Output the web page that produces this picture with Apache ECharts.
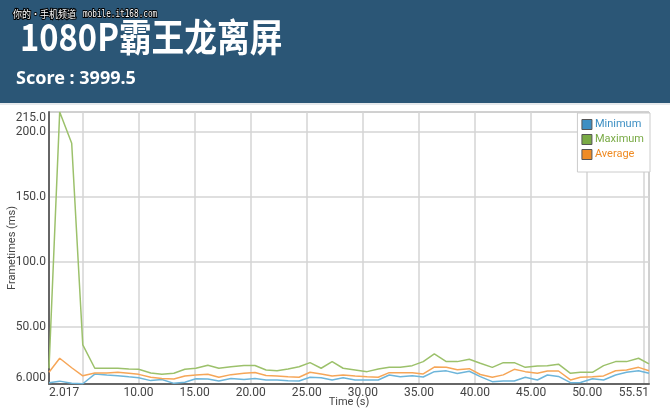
<!DOCTYPE html>
<html>
<head>
<meta charset="utf-8">
<script src="https://cdn.jsdelivr.net/npm/echarts@6/dist/echarts.min.js"></script>
<style>
html,body{margin:0;padding:0;background:#fff;}
#c{width:670px;height:410px;}
</style>
</head>
<body>
<div id="c"></div>
<script>
// ---- data ----
const times = [2.017, 2.97, 4.04, 5.03, 6.10, 7.17, 8.15, 9.13, 10.01, 11.09, 12.08, 13.15, 14.13, 15.11,
  16.18, 17.16, 18.24, 19.40, 20.38, 21.37, 22.35, 23.33, 24.31, 25.29, 26.28, 27.26, 28.24, 29.31,
  30.38, 31.37, 32.35, 33.33, 34.40, 35.38, 36.37, 37.44, 38.42, 39.49, 40.47, 41.54, 42.52, 43.50,
  44.48, 45.56, 46.45, 47.44, 48.51, 49.40, 50.47, 51.46, 52.53, 53.51, 54.58, 55.51];
const minimum = [7, 8.2, 6.5, 6.2, 13.6, 12.9, 12.4, 11.5, 10.8, 8.6, 9.4, 6.5, 7.4, 10.1,
  9.8, 8.3, 10.3, 9.5, 10.3, 9.1, 9.1, 8.5, 8.3, 11.2, 10.8, 9.1, 10.8, 9.1,
  9.1, 9.1, 12.9, 11.6, 12.4, 11.4, 15.5, 16.1, 14.0, 15.8, 11.7, 7.8, 8.3, 8.3,
  11.2, 9.1, 12.9, 11.8, 7.0, 7.2, 10.0, 9.1, 12.9, 15.0, 16.2, 14.2];
const maximum = [18, 215, 191, 36, 18.1, 18.1, 18.1, 17.5, 17.3, 14.5, 13.5, 14.2, 17.3, 18.1,
  20.4, 18.1, 19.3, 20.3, 20.2, 16.8, 16.2, 17.5, 19.3, 22.4, 18.1, 23.2, 18.1, 16.8,
  15.5, 17.5, 18.8, 18.8, 20.1, 23.2, 29.1, 23.2, 23.2, 25.0, 21.9, 18.8, 22.4, 22.4,
  18.8, 19.8, 20.1, 21.2, 14.2, 15.0, 15.0, 20.1, 23.2, 23.2, 25.8, 21.4];
const average = [15, 25.8, 18.5, 12.3, 14.5, 14.5, 15.0, 14.2, 13.4, 11.2, 10.2, 9.8, 12.2, 12.9,
  13.5, 11.2, 13.2, 14.2, 14.8, 12.6, 12.2, 11.6, 11.2, 15.0, 13.7, 12.2, 12.9, 12.2,
  11.6, 11.2, 14.7, 14.7, 14.7, 13.7, 19.0, 18.8, 17.0, 17.8, 13.3, 11.2, 13.0, 17.3,
  15.5, 14.2, 16.0, 16.0, 9.1, 11.2, 11.5, 12.2, 16.2, 16.8, 18.8, 16.2];
const seriesNames = ['Minimum', 'Maximum', 'Average'];
const xMin = 2.017, xMax = 55.51;
const yMin = 6, yMax = 215;
const titleText = '1080P霸王龙离屏';
const scoreText = 'Score : 3999.5';

const lineColors = ['#6db5da', '#9cc16b', '#f6a658'];
const iconColors = ['#3d8fc3', '#79aa45', '#ef8b24'];

const pairs = arr => times.map((t, i) => [t, arr[i]]);
const seriesData = [minimum, maximum, average];

const chart = echarts.init(document.getElementById('c'), null, {renderer: 'canvas'});
chart.setOption({
  backgroundColor: '#ffffff',
  animation: false,
  graphic: [
    {type: 'rect', x: 0, y: 0, z: -10, shape: {width: 670, height: 103}, style: {fill: '#2b5676'}},
    {type: 'rect', x: 0, y: 103, z: -10, shape: {width: 670, height: 2}, style: {fill: '#e6e9ec'}},
    {type: 'text', x: 20, y: 18, scaleX: 0.86, style: {text: titleText, fill: '#fff', font: 'bold 38px "Noto Sans CJK SC"'}},
    {type: 'text', x: 16, y: 70, style: {text: scoreText, fill: '#fff', font: 'bold 18px "Noto Sans", "Open Sans", sans-serif'}},
    {type: 'text', x: 13, y: 9, scaleX: 0.9, style: {text: '你的•手机频道', fill: '#fff', stroke: '#000', lineWidth: 2, font: '10px "Noto Sans CJK SC"'}},
    {type: 'text', x: 83, y: 9, scaleX: 0.77, style: {text: 'mobile.it168.com', fill: '#fff', stroke: '#000', lineWidth: 2, font: '10px "DejaVu Sans Mono"'}}
  ],
  legend: {
    orient: 'vertical',
    right: 20,
    top: 113,
    itemWidth: 10,
    itemHeight: 10,
    itemGap: 4,
    padding: [6, 6, 12, 4],
    backgroundColor: '#ffffff',
    borderColor: '#cccccc',
    borderWidth: 1,
    icon: 'rect',
    textStyle: {fontSize: 11, fontFamily: 'Roboto', padding: [0, 0, 0, -2]},
    data: seriesNames.map((n, i) => ({name: n, textStyle: {color: iconColors[i]}, itemStyle: {color: iconColors[i], borderColor: '#555', borderWidth: 1}}))
  },
  grid: {left: 49, right: 21, top: 112, bottom: 26, show: true, borderColor: '#8a8a8a', borderWidth: 1, containLabel: false, outerBoundsMode: 'none'},
  xAxis: {
    type: 'value',
    min: xMin,
    max: xMax,
    splitNumber: 10,
    name: 'Time (s)',
    nameLocation: 'middle',
    nameGap: 13,
    nameMoveOverlap: false,
    nameTextStyle: {fontSize: 11, color: '#444', fontFamily: 'Roboto'},
    axisLine: {show: true, lineStyle: {color: '#666', width: 2}},
    axisTick: {show: false},
    axisLabel: {
      fontSize: 12, color: '#444', fontFamily: 'Roboto', margin: 3,
      showMinLabel: true, showMaxLabel: true,
      alignMinLabel: 'left', alignMaxLabel: 'right',
      formatter: v => (Math.abs(v - 5) < 1e-9 || Math.abs(v - 55) < 1e-9) ? '' : Number(v).toPrecision(4)
    },
    splitLine: {show: true, lineStyle: {color: '#d4d4d4', width: 1.5}}
  },
  yAxis: {
    type: 'value',
    min: yMin,
    max: yMax,
    splitNumber: 4,
    name: 'Frametimes (ms)',
    nameLocation: 'middle',
    nameGap: 31,
    nameMoveOverlap: false,
    nameTextStyle: {fontSize: 11, color: '#444', fontFamily: 'Roboto'},
    axisLine: {show: true, lineStyle: {color: '#666', width: 2}},
    axisTick: {show: false},
    axisLabel: {
      fontSize: 12, color: '#444', fontFamily: 'Roboto', margin: 3,
      showMinLabel: true, showMaxLabel: true,
      verticalAlignMinLabel: 'bottom', verticalAlignMaxLabel: 'top',
      formatter: v => Number(v).toPrecision(4)
    },
    splitLine: {show: true, lineStyle: {color: '#d4d4d4', width: 1.5}}
  },
  series: seriesNames.map((n, i) => ({
    name: n,
    type: 'line',
    data: pairs(seriesData[i]),
    showSymbol: false,
    symbol: 'none',
    itemStyle: {color: iconColors[i]},
    lineStyle: {color: lineColors[i], width: 1.5},
    z: i === 1 ? 3 : 2
  }))
});
</script>
</body>
</html>
